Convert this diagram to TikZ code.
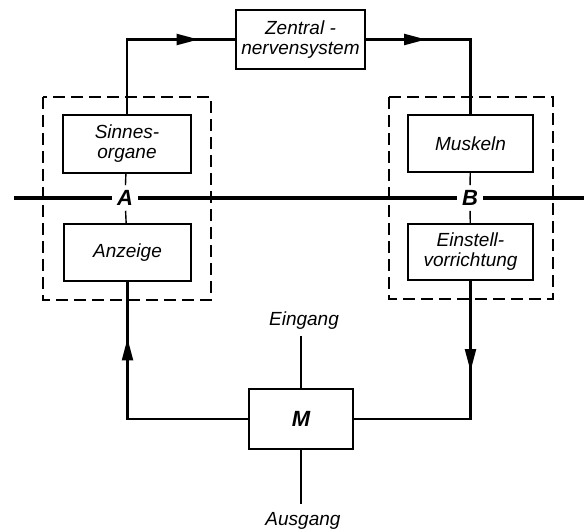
\documentclass[tikz,border=0pt]{standalone}
\usepackage{fontspec}
\setmainfont{Liberation Sans}
\usetikzlibrary{arrows.meta,decorations.markings}
\tikzset{bigtri/.tip={Triangle[length=22pt,width=11pt]}}
\begin{document}
\begin{tikzpicture}[x=1pt,y=-1pt,
  blk/.style={draw,line width=2.1pt,inner sep=1pt,align=center,
    font=\fontsize{19}{20}\selectfont\itshape},
  conn/.style={line width=2.2pt},
  markat/.style={postaction={decorate},decoration={markings,mark=at position #1 with {\arrow{bigtri}}}},
  dashbox/.style={draw,line width=1.4pt,dash pattern=on 12pt off 6pt},
  letter/.style={inner sep=5pt,font=\fontsize{22}{22}\selectfont\bfseries\itshape},
  thickln/.style={line width=4pt},
  lbl/.style={font=\fontsize{19}{20}\selectfont\itshape}]
\useasboundingbox (0,0) rectangle (584,532);
% dashed boxes
\draw[dashbox] (43,97) rectangle (211,300);
\draw[dashbox] (389,97) rectangle (553,299);
% blocks
\node[blk, minimum width=129pt, minimum height=59pt] (zns) at (300.5,39.5) {Zentral -\\nervensystem};
\node[blk, minimum width=128pt, minimum height=58pt] (sin) at (127,144) {Sinnes-\\organe};
\node[blk, minimum width=127pt, minimum height=57pt] (anz) at (127.5,252.5) {Anzeige};
\node[blk, minimum width=125pt, minimum height=57pt] (mus) at (470.5,143.5) {Muskeln};
\node[blk, minimum width=125pt, minimum height=56pt] (ein) at (470.5,252) {Einstell-\\vorrichtung};
\node[blk, minimum width=104pt, minimum height=60pt, font=\fontsize{22}{22}\selectfont\bfseries\itshape] (M) at (301,419) {M};
% A / B letters and thick line
\node[letter] (A) at (125,198) {A};
\node[letter] (B) at (470,198) {B};
\coordinate (L) at (14,198);
\coordinate (R) at (586,198);
\draw[thickln] (L) -- (A);
\draw[thickln] (A) -- (B);
\draw[thickln] (B) -- (R);
\draw[line width=1.4pt] (sin) -- (A);
\draw[line width=1.4pt] (A) -- (anz);
\draw[line width=1.4pt] (mus) -- (B);
\draw[line width=1.4pt] (B) -- (ein);
% connectors
\draw[conn, markat=146pt] (sin.north) |- (zns.west);
\draw[conn, markat=60pt] (zns.east) -| (mus.north);
\draw[conn, markat=90pt] (ein.south) |- (M.east);
\draw[conn, markat=201pt] (M.west) -| (anz.south);
% input / output
\node[lbl] (inp) at (304,321) {Eingang};
\node[lbl] (outp) at (303,521) {Ausgang};
\coordinate (inpend) at (301,336);
\coordinate (outpend) at (301,504);
\draw[line width=1.6pt] (inpend) -- (M.north);
\draw[line width=1.6pt] (M.south) -- (outpend);
\end{tikzpicture}
\end{document}
